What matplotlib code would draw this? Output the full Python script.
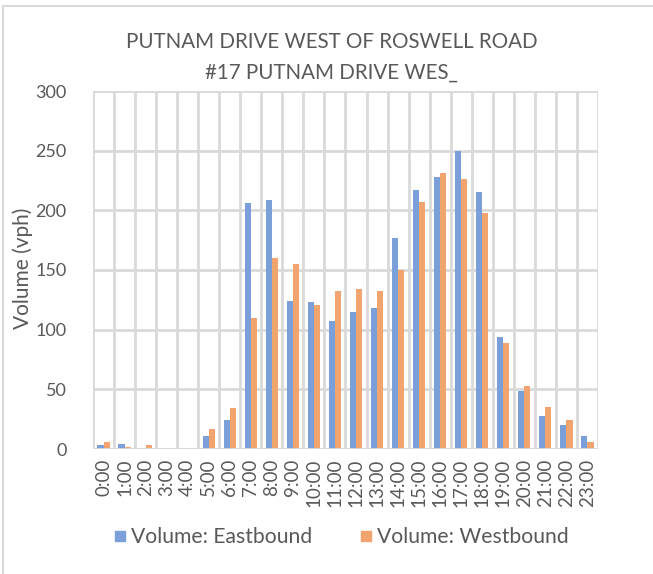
import numpy as np
import matplotlib
matplotlib.use("Agg")
import matplotlib.pyplot as plt
from matplotlib.patches import Rectangle
from matplotlib.lines import Line2D

hours = [f"{h}:00" for h in range(24)]
eastbound = [3, 4, 0, 0, 0, 11, 24, 206, 209, 124, 123, 107,
             115, 118, 177, 217, 228, 250, 215, 94, 49, 28, 20, 11]
westbound = [6, 2, 3, 1, 0, 17, 34, 110, 160, 155, 121, 132,
             134, 132, 150, 207, 231, 226, 198, 89, 53, 35, 24, 6]

TEXT = "#595959"
GRID = "#d9d9d9"
EAST_C = "#7a9fd9"
WEST_C = "#f2a46e"
plt.rcParams["font.family"] = ["Lato", "DejaVu Sans"]

fig = plt.figure(figsize=(6.53, 5.74), dpi=100)
ax = fig.add_axes([93 / 653, 1 - 449 / 574, 505 / 653, 358 / 574])

x = np.arange(len(hours))
w = 0.29
ax.bar(x - w / 2, eastbound, w, color=EAST_C, zorder=3)
ax.bar(x + w / 2, westbound, w, color=WEST_C, zorder=3)

ax.set_xlim(-0.5, 23.5)
ax.set_ylim(0, 300)
ax.set_yticks(range(0, 301, 50))
ax.set_xticks(x)
ax.set_xticklabels(hours, rotation=90, fontsize=13.5, color=TEXT)
ax.tick_params(axis="y", labelsize=13, labelcolor=TEXT, length=0, pad=19)
ax.tick_params(axis="x", length=0, pad=7)

ax.set_xticks(np.arange(-0.5, 24, 1), minor=True)
ax.grid(True, which="minor", axis="x", color=GRID, lw=2, zorder=0)
ax.grid(True, which="major", axis="y", color=GRID, lw=2, zorder=0)
ax.tick_params(which="minor", length=0)
for s in ax.spines.values():
    s.set_visible(False)
ax.axhline(0, color=GRID, lw=2, zorder=4)

fig.text(23 / 653, 1 - 268 / 574, "Volume (vph)", rotation=90, ha="center",
         va="center", fontsize=15, color=TEXT)
fig.text(0.508, 1 - 42 / 574, "PUTNAM DRIVE WEST OF ROSWELL ROAD", ha="center",
         va="center", fontsize=14.8, color=TEXT)
fig.text(0.508, 1 - 73 / 574, "#17 PUTNAM DRIVE WES_", ha="center",
         va="center", fontsize=14.8, color=TEXT)

handles = [Line2D([], [], ls="none", marker="s", markersize=6.5, color=EAST_C),
           Line2D([], [], ls="none", marker="s", markersize=6.5, color=WEST_C)]
fig.legend(handles, ["Volume: Eastbound", "Volume: Westbound"], loc="center",
           bbox_to_anchor=(0.523, 1 - 537 / 574), ncol=2, frameon=False,
           fontsize=15.2, labelcolor=TEXT, handlelength=0.55,
           handletextpad=0.25, columnspacing=2.3)

fig.patches.append(Rectangle((3 / 653, -0.1), 1.2, 1 - 6 / 574 + 0.1,
                             transform=fig.transFigure, fill=False,
                             edgecolor=GRID, lw=1.5))

fig.savefig("out.png", dpi=100)
